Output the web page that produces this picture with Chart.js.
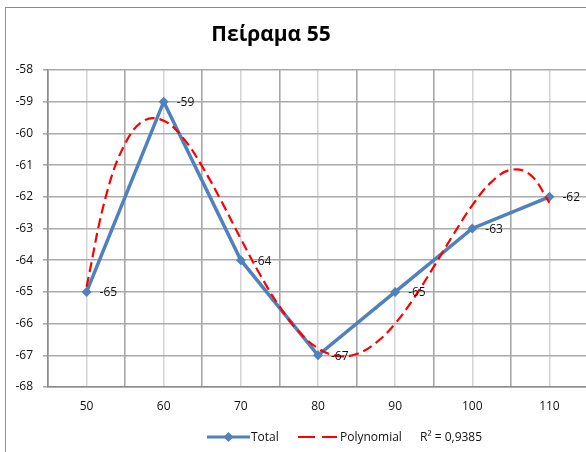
<!DOCTYPE html>
<html>
<head>
<meta charset="utf-8">
<script src="https://cdn.jsdelivr.net/npm/chart.js@4"></script>
<style>
  html, body { margin: 0; padding: 0; background: #fff; overflow: hidden; }
  #frame { position: absolute; left: 5px; top: 7px; width: 700px; height: 600px;
           border: 1px solid #8e8e8e; box-sizing: border-box; }
  #wrap { position: absolute; left: 0; top: 0; width: 600px; height: 452px; }
</style>
</head>
<body>
<div id="frame"></div>
<div id="wrap"><canvas id="c"></canvas></div>
<script>
// Measured series
const xValues = [50, 60, 70, 80, 90, 100, 110];
const totalValues = [-65, -59, -64, -67, -65, -63, -62];

// Polynomial trend line, sampled along the x range
const trendX = [50, 52.5, 55, 57.5, 60, 62.5, 65, 67.5, 70, 72.5, 75, 77.5, 80,
                82.5, 85, 87.5, 90, 92.5, 95, 97.5, 100, 102.5, 105, 107.5, 110];
const trendY = [-64.84, -61.99, -60.32, -59.59, -59.60, -60.14, -61.05, -62.15, -63.33,
                -64.46, -65.46, -66.25, -66.78, -67.02, -66.96, -66.61, -66.00, -65.17,
                -64.21, -63.21, -62.27, -61.53, -61.15, -61.30, -62.18];

// Text
const titleText = 'Πείραμα 55';
const seriesNames = ['Total', 'Polynomial'];
const rSquaredText = 'R² = 0,9385';
const xTickLabels = [50, 60, 70, 80, 90, 100, 110];

const FONT = '"Open Sans", "Noto Sans", sans-serif';
const BLUE = '#4f81bd';
const RED = '#ff0000';

const totalPoints = xValues.map((x, i) => ({ x, y: totalValues[i] }));
const trendPoints = trendX.map((x, i) => ({ x, y: trendY[i] }));

const decor = {
  id: 'decor',
  afterDatasetsDraw(chart) {
    const ctx = chart.ctx;
    const meta = chart.getDatasetMeta(0);
    ctx.save();
    ctx.font = '12px ' + FONT;
    ctx.fillStyle = '#111';
    ctx.textAlign = 'left';
    ctx.textBaseline = 'middle';
    meta.data.forEach((pt, i) => {
      ctx.fillText(String(totalValues[i]), pt.x + 13, pt.y + 1);
    });
    ctx.restore();
  },
  afterDraw(chart) {
    const ctx = chart.ctx;
    ctx.save();
    // title
    ctx.font = 'bold 21px ' + FONT;
    ctx.fillStyle = '#000';
    ctx.textAlign = 'center';
    ctx.textBaseline = 'middle';
    ctx.fillText(titleText, 271, 35);

    // legend
    const ly = 437;
    ctx.font = '12px ' + FONT;
    ctx.fillStyle = '#111';
    ctx.textAlign = 'left';
    ctx.textBaseline = 'middle';

    ctx.strokeStyle = BLUE;
    ctx.lineWidth = 3;
    ctx.beginPath();
    ctx.moveTo(207, ly);
    ctx.lineTo(250, ly);
    ctx.stroke();
    ctx.fillStyle = BLUE;
    ctx.beginPath();
    ctx.moveTo(228.5, ly - 5);
    ctx.lineTo(233.5, ly);
    ctx.lineTo(228.5, ly + 5);
    ctx.lineTo(223.5, ly);
    ctx.closePath();
    ctx.fill();
    ctx.fillStyle = '#111';
    ctx.fillText(seriesNames[0], 251, ly + 1);

    ctx.strokeStyle = RED;
    ctx.lineWidth = 2;
    ctx.beginPath();
    ctx.moveTo(298, ly);
    ctx.lineTo(315, ly);
    ctx.moveTo(322, ly);
    ctx.lineTo(337, ly);
    ctx.stroke();
    ctx.fillText(seriesNames[1], 340, ly + 1);

    ctx.fillText(rSquaredText, 420, ly + 1);
    ctx.restore();
  }
};

new Chart(document.getElementById('c'), {
  type: 'scatter',
  data: {
    datasets: [
      {
        label: seriesNames[0],
        data: totalPoints,
        showLine: true,
        borderColor: BLUE,
        borderWidth: 3.5,
        backgroundColor: BLUE,
        pointStyle: 'rectRot',
        pointRadius: 5,
        pointBorderWidth: 0,
        pointBackgroundColor: BLUE,
        tension: 0,
        order: 1
      },
      {
        label: seriesNames[1],
        data: trendPoints,
        showLine: true,
        borderColor: RED,
        borderWidth: 2.2,
        borderDash: [10, 5],
        pointRadius: 0,
        tension: 0.4,
        order: 0
      }
    ]
  },
  options: {
    responsive: true,
    maintainAspectRatio: false,
    devicePixelRatio: 1,
    animation: false,
    layout: { padding: { left: 0, right: 12, top: 70, bottom: 0 } },
    plugins: {
      legend: { display: false },
      title: { display: false },
      tooltip: { enabled: false }
    },
    scales: {
      x: {
        type: 'linear',
        min: 45,
        max: 115,
        afterFit: s => { s.height = 65; },
        ticks: {
          stepSize: 5,
          padding: 12,
          color: '#111',
          font: { family: FONT, size: 12 },
          maxRotation: 0,
          autoSkip: false,
          callback: v => (xTickLabels.includes(v) ? String(v) : '')
        },
        grid: {
          drawTicks: false,
          lineWidth: c => (c.tick && c.tick.value % 10 === 0 ? 1.5 : 1.6),
          color: c => (c.tick && c.tick.value % 10 === 0 ? '#d4d4d4' : '#a8a8a8')
        },
        border: { color: '#8c8c8c', width: 1.5 }
      },
      y: {
        min: -68,
        max: -58,
        afterFit: s => { s.width = 48; },
        ticks: {
          stepSize: 1,
          padding: 10,
          color: '#111',
          font: { family: FONT, size: 12 }
        },
        grid: { color: '#aaaaaa', lineWidth: 1.6, tickLength: 5 },
        border: { color: '#8c8c8c', width: 1.5 }
      }
    }
  },
  plugins: [decor]
});
</script>
</body>
</html>
